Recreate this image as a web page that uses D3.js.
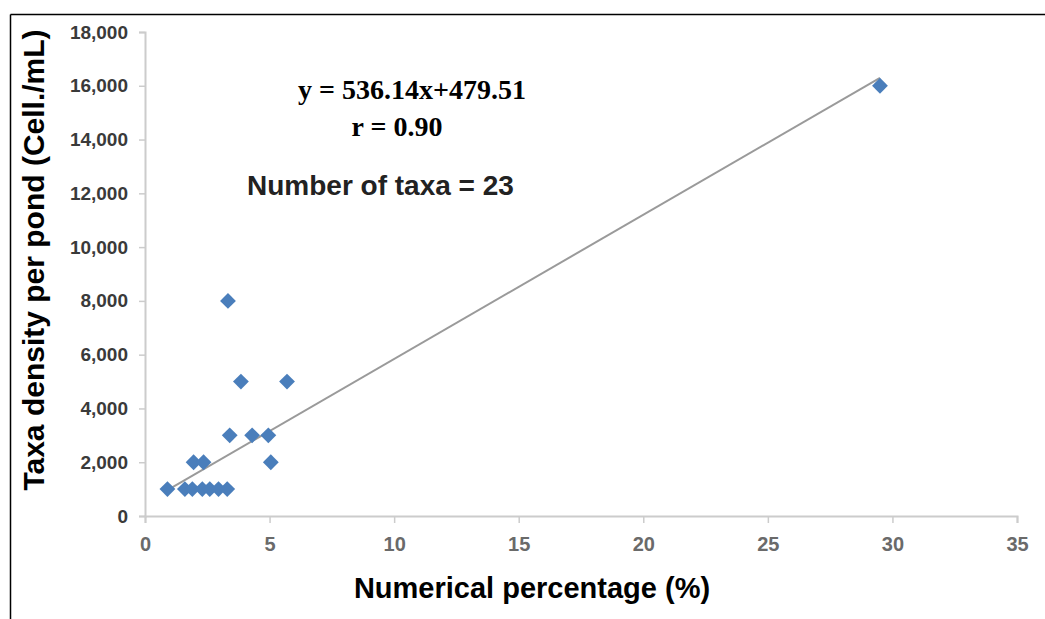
<!DOCTYPE html>
<html>
  <head>
    <title>Taxa density</title>
    <meta http-equiv="Content-Type" content="text/html;charset=utf-8">
    <style>
      body { margin: 0; background: #fff; }
      .tick text { font-family: "Liberation Sans", Arial, sans-serif; }
    </style>
  </head>
  <body>
    <div id="chart"></div>
    <script src="https://cdn.jsdelivr.net/npm/d3@7"></script>
    <script>
      // values
      var percent = [0.9, 1.6, 1.9, 2.3, 2.6, 2.95, 3.3, 1.95, 2.35, 5.05, 3.4, 4.3, 4.95, 3.85, 5.7, 3.33, 29.5];
      var density = [1000, 1000, 1000, 1000, 1000, 1000, 1000, 2000, 2000, 2000, 3000, 3000, 3000, 5000, 5000, 8000, 16000];
      var slope = 536.14;
      var intercept = 479.51;
      var xTicks = [0, 5, 10, 15, 20, 25, 30, 35];
      var yTicks = [0, 2000, 4000, 6000, 8000, 10000, 12000, 14000, 16000, 18000];

      var width = 1045, height = 619;
      var svg = d3.select('#chart').append('svg')
        .attr('width', width).attr('height', height);

      // frame lines (top and left only)
      svg.append('line').attr('x1', 10.5).attr('x2', 1045).attr('y1', 14.5).attr('y2', 14.5)
        .attr('stroke', '#000').attr('stroke-width', 1.5);
      svg.append('line').attr('x1', 10.5).attr('x2', 10.5).attr('y1', 14.5).attr('y2', 619)
        .attr('stroke', '#000').attr('stroke-width', 1.5);

      var x = d3.scaleLinear().domain([0, 35]).range([145, 1017]);
      var y = d3.scaleLinear().domain([0, 18000]).range([516, 32]);

      var xAxis = svg.append('g')
        .attr('transform', 'translate(0,516)')
        .call(d3.axisBottom(x).tickValues(xTicks).tickSize(7).tickPadding(14));
      xAxis.selectAll('text').attr('fill', '#6a6a6a').style('font-size', '20px').style('font-weight', 'bold');

      var yAxis = svg.append('g')
        .attr('transform', 'translate(145,0)')
        .call(d3.axisLeft(y).tickValues(yTicks).tickSize(6).tickPadding(11).tickFormat(d3.format(',')));
      yAxis.selectAll('text').attr('fill', '#3a3a3a').style('font-size', '19px').style('font-weight', 'bold');

      svg.selectAll('.domain').attr('stroke', '#cccccc').attr('stroke-width', 2);
      svg.selectAll('.tick line').attr('stroke', '#cccccc').attr('stroke-width', 1.5);

      // trend line
      var x0 = d3.min(percent), x1 = d3.max(percent);
      svg.append('line')
        .attr('x1', x(x0)).attr('y1', y(slope * x0 + intercept))
        .attr('x2', x(x1)).attr('y2', y(slope * x1 + intercept))
        .attr('stroke', '#9a9a9a').attr('stroke-width', 2);

      // points
      var diamond = d3.symbol().type(d3.symbolSquare).size(125);
      svg.selectAll('.pt')
        .data(percent)
        .enter().append('path')
        .attr('class', 'pt')
        .attr('d', diamond)
        .attr('transform', function(d, i) {
          return 'translate(' + x(d) + ',' + y(density[i]) + ') rotate(45)';
        })
        .attr('fill', '#4a7ebb');

      // annotations
      svg.append('text').attr('x', 412).attr('y', 99).attr('text-anchor', 'middle')
        .style('font-family', '"Liberation Serif", "Times New Roman", serif')
        .style('font-weight', 'bold').style('font-size', '28px')
        .text('y = 536.14x+479.51');
      svg.append('text').attr('x', 397).attr('y', 136).attr('text-anchor', 'middle')
        .style('font-family', '"Liberation Serif", "Times New Roman", serif')
        .style('font-weight', 'bold').style('font-size', '28px')
        .text('r = 0.90');
      svg.append('text').attr('x', 247).attr('y', 195)
        .style('font-family', '"Liberation Sans", Arial, sans-serif')
        .style('font-weight', 'bold').style('font-size', '28px').attr('fill', '#222')
        .text('Number of taxa = 23');

      // axis titles
      svg.append('text').attr('x', 532).attr('y', 598).attr('text-anchor', 'middle')
        .style('font-family', '"Liberation Sans", Arial, sans-serif')
        .style('font-weight', 'bold').style('font-size', '29px')
        .text('Numerical percentage (%)');
      svg.append('text')
        .attr('transform', 'translate(44,260) rotate(-90)')
        .attr('text-anchor', 'middle')
        .style('font-family', '"Liberation Sans", Arial, sans-serif')
        .style('font-weight', 'bold').style('font-size', '30px')
        .text('Taxa density per pond (Cell./mL)');
    </script>
  </body>
</html>
